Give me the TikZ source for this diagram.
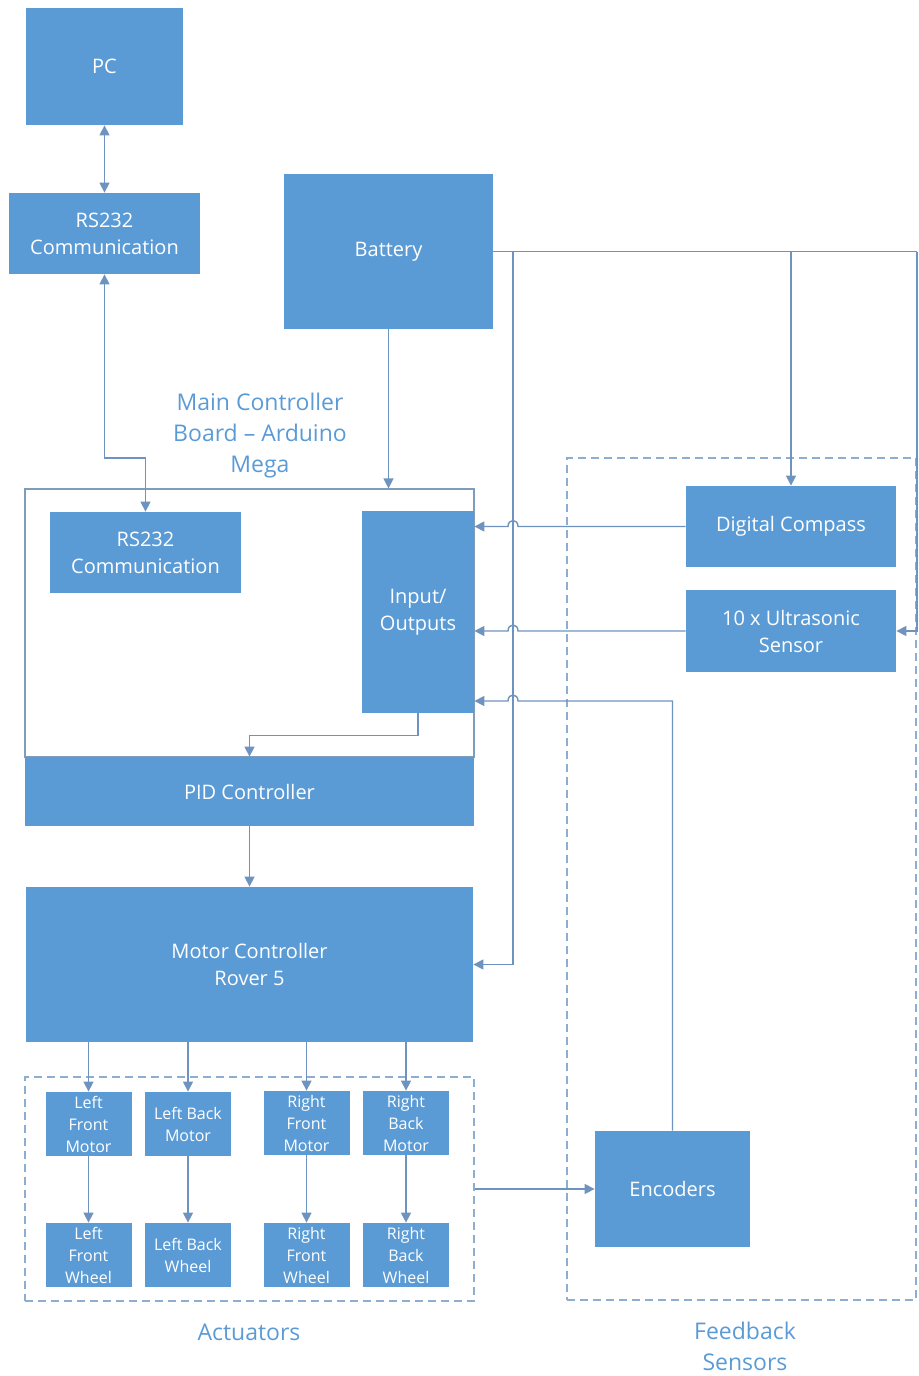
\documentclass[tikz,border=0pt]{standalone}
\usepackage{fontspec}
\setmainfont{Open Sans}
\usepackage{xcolor}
\usepackage{tikz}
\usetikzlibrary{arrows.meta, positioning, calc}

\definecolor{boxblue}{HTML}{5B9BD5}
\definecolor{wireblue}{HTML}{6E93BE}
\definecolor{dashblue}{HTML}{8DAED0}

\begin{document}
\begin{tikzpicture}[
  x=0.5pt, y=-0.5pt,
  blk/.style={fill=boxblue, draw=none, text=white, align=center, inner sep=0pt,
              font=\fontsize{10pt}{13.5pt}\selectfont},
  small/.style={blk, minimum width=43pt, minimum height=32pt,
                font=\fontsize{8pt}{11pt}\selectfont},
  dashbox/.style={draw=dashblue, dashed, dash pattern=on 4pt off 2.5pt, line width=0.6pt,
                  inner sep=0pt},
  lbl/.style={text=boxblue, align=center, font=\fontsize{11.5pt}{15.5pt}\selectfont},
  arr/.style={-{Triangle[length=5pt, width=5pt]}, draw=wireblue, line width=0.7pt},
  wire/.style={draw=wireblue, line width=0.7pt}
]
  \useasboundingbox (0,0) rectangle (919,1376);

  % board outline and groups
  \node[draw=dashblue!90!black, line width=0.6pt, minimum width=224.5pt, minimum height=134pt,
        inner sep=0pt] (board) at (249.5,623) {};
  \node[dashbox, minimum width=224.5pt, minimum height=112pt] (act) at (249.5,1189) {};
  \node[dashbox, minimum width=174.5pt, minimum height=421pt] (fb) at (741.5,879) {};

  \node[lbl] (boardlbl) at (260,436) {Main Controller\\Board -- Arduino\\Mega};
  \node[lbl] (actlbl) at (249,1332) {Actuators};
  \node[lbl] (fblbl) at (745,1346) {Feedback\\Sensors};

  % blocks
  \node[blk, minimum width=78.5pt, minimum height=58.5pt] (pc) at (104.5,66.5) {PC};
  \node[blk, minimum width=95.5pt, minimum height=40.5pt] (rstop) at (104.5,233.5) {RS232\\Communication};
  \node[blk, minimum width=104.5pt, minimum height=77.5pt] (batt) at (388.5,251.5) {Battery};
  \node[blk, minimum width=95.5pt, minimum height=40.5pt] (rsin) at (145.5,552.5) {RS232\\Communication};
  \node[blk, minimum width=56pt, minimum height=101pt] (io) at (418,612) {Input/\\Outputs};
  \node[blk, minimum width=224.5pt, minimum height=34.5pt] (pid) at (249.5,791.5) {PID Controller};
  \node[blk, minimum width=223.5pt, minimum height=77.5pt] (mc) at (249.5,964.5) {Motor Controller\\Rover 5};
  \node[blk, minimum width=105pt, minimum height=40.5pt] (compass) at (791,526.5) {Digital Compass};
  \node[blk, minimum width=105pt, minimum height=41pt] (sonar) at (791,631) {10 x Ultrasonic\\Sensor};
  \node[blk, minimum width=77.5pt, minimum height=58pt] (enc) at (672.5,1189) {Encoders};

  % motors and wheels
  \node[small] (lfm) at (88.5,1124) {Left\\Front\\Motor};
  \node[small] (lbm) at (188,1124) {Left Back\\Motor};
  \node[small] (rfm) at (306.5,1123) {Right\\Front\\Motor};
  \node[small] (rbm) at (406,1123) {Right\\Back\\Motor};
  \node[small] (lfw) at (88.5,1255) {Left\\Front\\Wheel};
  \node[small] (lbw) at (188,1255) {Left Back\\Wheel};
  \node[small] (rfw) at (306.5,1255) {Right\\Front\\Wheel};
  \node[small] (rbw) at (406,1255) {Right\\Back\\Wheel};

  % helper points
  \coordinate (rsbend) at (104.5,458);
  \coordinate (tapM) at (513,251.5);
  \coordinate (busE) at (917,251.5);
  \coordinate (encturn) at (672.5,701);

  % PC link
  \draw[arr, {Triangle[length=5pt, width=5pt]}-{Triangle[length=5pt, width=5pt]}] (pc) -- (rstop);
  \draw[arr, {Triangle[length=5pt, width=5pt]}-{Triangle[length=5pt, width=5pt]}]
    (rstop.south) -- (rsbend) -| (rsin.north);

  % power
  \draw[arr] (batt.south) -- (batt.south |- board.north);
  \draw[wire] (batt.east) -- (busE);
  \draw[arr] (busE) |- (sonar.east);
  \draw[arr] (tapM) |- (mc.east);
  \draw[arr] (compass.north |- batt.east) -- (compass.north);

  % sensors to I/O, hopping over the power line
  \draw[arr] (compass.west) -- ($(compass.west -| tapM)+(5,0)$)
    .. controls +(0,-8) and +(0,-8) .. ($(compass.west -| tapM)+(-5,0)$)
    -- (compass.west -| io.east);
  \draw[arr] (sonar.west) -- ($(sonar.west -| tapM)+(5,0)$)
    .. controls +(0,-8) and +(0,-8) .. ($(sonar.west -| tapM)+(-5,0)$)
    -- (sonar.west -| io.east);
  \draw[arr] (enc.north) -- (encturn) -- ($(encturn -| tapM)+(5,0)$)
    .. controls +(0,-8) and +(0,-8) .. ($(encturn -| tapM)+(-5,0)$)
    -- (encturn -| io.east);

  % control chain
  \draw[arr] (io.south) -- ++(0,22) -| (pid.north);
  \draw[arr] (pid) -- (mc);
  \foreach \m/\w in {lfm/lfw, lbm/lbw, rfm/rfw, rbm/rbw} {
    \draw[arr] (mc.south -| \m) -- (\m.north);
    \draw[arr] (\m) -- (\w);
  }
  \draw[arr] (act.east) -- (enc.west);
\end{tikzpicture}
\end{document}
